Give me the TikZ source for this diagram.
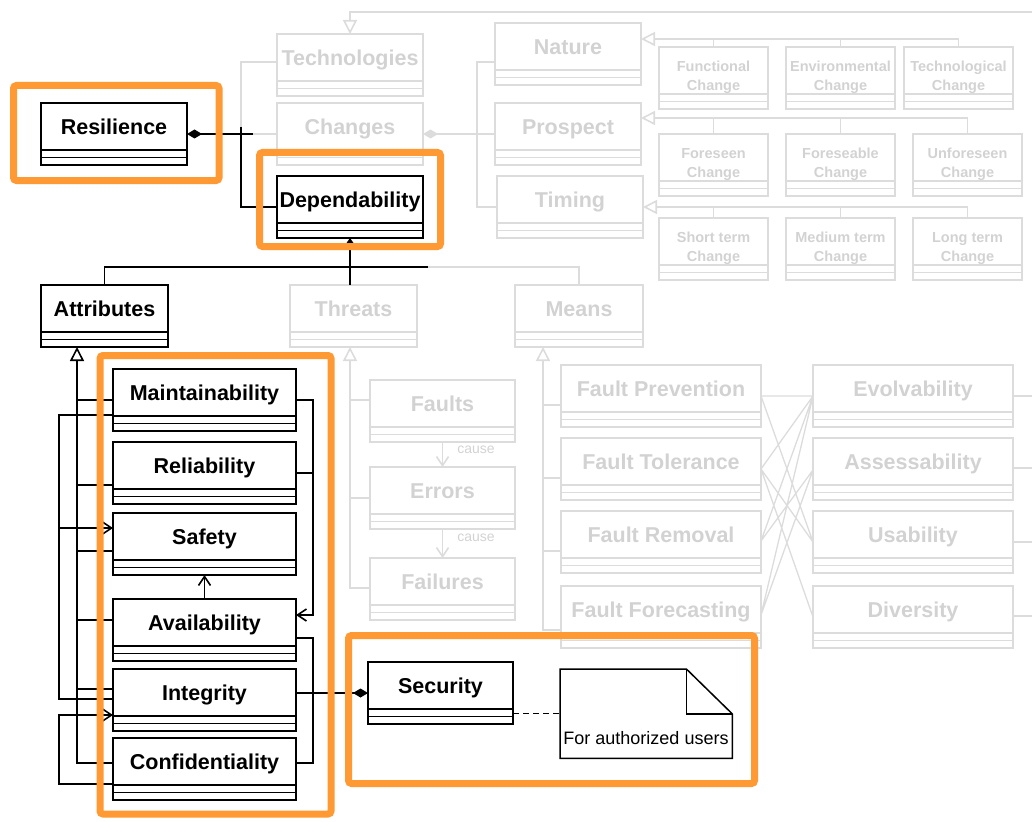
\documentclass[tikz,border=0pt]{standalone}
\usepackage{fontspec}
\setmainfont{Liberation Sans}
\usetikzlibrary{arrows.meta,calc}
\definecolor{gyc}{HTML}{DCDCDC}
\definecolor{gyt}{HTML}{D2D2D2}
\definecolor{org}{HTML}{FF9933}
\tikzset{
  bkl/.style={draw=black, line width=1.8pt},
  gyl/.style={draw=gyc, line width=1.8pt},
  bkc/.style={draw=black, line width=1.6pt},
  gyk/.style={draw=gyc, line width=1.6pt},
  gyx/.style={draw=gyc, line width=1.3pt},
  bkbox/.style={bkl, inner sep=0pt, outer sep=0pt},
  gybox/.style={gyl, inner sep=0pt, outer sep=0pt},
  bigbk/.style={text=black, font=\fontsize{21.5}{24}\selectfont\bfseries, inner sep=0pt, anchor=base, yshift=-7.7pt},
  biggy/.style={bigbk, text=gyt},
  smgy/.style={text=gyt, font=\fontsize{14.5}{19}\selectfont\bfseries, inner sep=0pt, anchor=north, align=center, yshift=9.3pt},
  gen/.tip={Triangle[open,length=14pt,width=14pt]},
  dep/.tip={Straight Barb[length=9pt,width=12pt]},
  comp/.tip={Diamond[length=15pt,width=9pt]},
  frame/.style={draw=org, line width=7pt, rounded corners=3pt}
}
% #1 name, #2 bk/gy, #3 x1, #4 y1, #5 x2, #6 y2, #7 text style, #8 text
\newcommand\umlcls[8]{%
  \pgfmathsetmacro\uw{#5-#3}\pgfmathsetmacro\uh{#6-#4}%
  \node[#2box, minimum width=\uw pt, minimum height=\uh pt, anchor=north west] (#1) at (#3,#4) {};
  \draw[#2l] (#3,{#6-15}) -- (#5,{#6-15}) (#3,{#6-7.5}) -- (#5,{#6-7.5});
  \node[#7] (#1-t) at ({(#3+#5)/2},{(#4+#6-15)/2}) {#8};
}
\begin{document}
\begin{tikzpicture}[x=1pt,y=-1pt]
\useasboundingbox (0,0) rectangle (1032,821);

% ---------- gray classes ----------
\umlcls{tech}{gy}{277}{34}{423}{96}{biggy}{Technologies}
\umlcls{chg}{gy}{277}{103}{423}{165}{biggy}{Changes}
\umlcls{nat}{gy}{495}{23}{641}{85}{biggy}{Nature}
\umlcls{pro}{gy}{495}{103}{641}{165}{biggy}{Prospect}
\umlcls{tim}{gy}{497}{176}{643}{238}{biggy}{Timing}
\umlcls{fun}{gy}{659}{47}{768}{109}{smgy}{Functional\\Change}
\umlcls{env}{gy}{786}{47}{895}{109}{smgy}{Environmental\\Change}
\umlcls{tec}{gy}{904}{47}{1013}{109}{smgy}{Technological\\Change}
\umlcls{fsn}{gy}{659}{134}{768}{196}{smgy}{Foreseen\\Change}
\umlcls{fsb}{gy}{786}{134}{895}{196}{smgy}{Foreseable\\Change}
\umlcls{ufs}{gy}{913}{134}{1022}{196}{smgy}{Unforeseen\\Change}
\umlcls{sht}{gy}{659}{218}{768}{280}{smgy}{Short term\\Change}
\umlcls{med}{gy}{786}{218}{895}{280}{smgy}{Medium term\\Change}
\umlcls{lng}{gy}{913}{218}{1022}{280}{smgy}{Long term\\Change}
\umlcls{thr}{gy}{290}{285}{417}{347}{biggy}{Threats}
\umlcls{mea}{gy}{515}{285}{643}{347}{biggy}{Means}
\umlcls{flt}{gy}{370}{380}{515}{442}{biggy}{Faults}
\umlcls{err}{gy}{370}{467}{515}{529}{biggy}{Errors}
\umlcls{fai}{gy}{370}{558}{515}{620}{biggy}{Failures}
\umlcls{fpr}{gy}{561}{365}{761}{427}{biggy}{Fault Prevention}
\umlcls{fto}{gy}{561}{438}{761}{500}{biggy}{Fault Tolerance}
\umlcls{frm}{gy}{561}{511}{761}{573}{biggy}{Fault Removal}
\umlcls{ffc}{gy}{561}{586}{761}{648}{biggy}{Fault Forecasting}
\umlcls{evo}{gy}{813}{365}{1013}{427}{biggy}{Evolvability}
\umlcls{ass}{gy}{813}{438}{1013}{500}{biggy}{Assessability}
\umlcls{usa}{gy}{813}{511}{1013}{573}{biggy}{Usability}
\umlcls{div}{gy}{813}{586}{1013}{648}{biggy}{Diversity}

% ---------- black classes ----------
\umlcls{res}{bk}{41}{103}{187}{165}{bigbk}{Resilience}
\umlcls{dep}{bk}{277}{176}{423}{238}{bigbk}{Dependability}
\umlcls{att}{bk}{41}{285}{168}{347}{bigbk}{Attributes}
\umlcls{mai}{bk}{113}{369}{296}{431}{bigbk}{Maintainability}
\umlcls{rel}{bk}{113}{442}{296}{504}{bigbk}{Reliability}
\umlcls{saf}{bk}{113}{513}{296}{575}{bigbk}{Safety}
\umlcls{ava}{bk}{113}{599}{296}{661}{bigbk}{Availability}
\umlcls{int}{bk}{113}{669}{296}{731}{bigbk}{Integrity}
\umlcls{con}{bk}{113}{738}{296}{800}{bigbk}{Confidentiality}
\umlcls{sec}{bk}{368}{662}{513}{724}{bigbk}{Security}

% note
\node[inner sep=0pt, minimum width=172pt, minimum height=89pt, anchor=north west] (note) at (560,669) {};
\draw[bkl, line width=1.5pt, line join=miter] (note.north west) -- ([xshift=-46pt]note.north east) -- ([yshift=-45pt]note.north east) -- (note.south east) -- (note.south west) -- cycle;
\draw[bkl, line width=1.5pt] ([xshift=-46pt]note.north east) -- ([xshift=-46pt,yshift=-45pt]note.north east) -- ([yshift=-45pt]note.north east);
\node[font=\fontsize{18}{20}\selectfont, inner sep=0pt, anchor=base] (note-t) at (646,744) {For authorized users};

% ---------- gray connectors ----------
\coordinate (topend) at (1032,12);
\coordinate (j1) at (253,134);
\coordinate (j2) at (241,127);
\coordinate (tj) at (428,267);
\draw[gyk, -gen] (topend) -| (tech.north);
\draw[gyk] ([yshift=-28pt]tech.north west) -| (j2);
\draw[gyk] (j1) -- (chg.west);
\draw[gyk, comp-] (chg.east) -- (pro.west);
\draw[gyk] ([yshift=-39pt]nat.north west) -- ++(-18,0) |- (tim.west);
\draw[gyk, -gen] (tec.north) |- ([yshift=-16pt]nat.north east);
\draw[gyk] (fun.north) -- ++(0,-8);
\draw[gyk] (env.north) -- ++(0,-8);
\draw[gyk, -gen] (ufs.north) |- ([yshift=-15pt]pro.north east);
\draw[gyk] (fsn.north) -- ++(0,-16);
\draw[gyk] (fsb.north) -- ++(0,-16);
\draw[gyk, -gen] (lng.north) |- (tim.east);
\draw[gyk] (sht.north) -- ++(0,-11);
\draw[gyk] (med.north) -- ++(0,-11);
\draw[gyk] (tj) -| (mea.north);
% threats
\draw[gyk, -gen] ([yshift=-30pt]fai.north west) -| ([xshift=60pt]thr.south west);
\draw[gyk] ([yshift=-20pt]flt.north west) -- ++(-20,0);
\draw[gyk] ([yshift=-31pt]err.north west) -- ++(-20,0);
\draw[gyk, -dep] (flt.south) -- (err.north) node[pos=0.3, anchor=west, xshift=14pt, inner sep=0pt, text=gyt, font=\fontsize{14}{16}\selectfont] (c1) {cause};
\draw[gyk, -dep] (err.south) -- (fai.north) node[pos=0.3, anchor=west, xshift=14pt, inner sep=0pt, text=gyt, font=\fontsize{14}{16}\selectfont] (c2) {cause};
% means
\draw[gyk, -gen] ([yshift=-44pt]ffc.north west) -| ([xshift=28pt]mea.south west);
\draw[gyk] ([yshift=-40pt]fpr.north west) -- ++(-18,0);
\draw[gyk] ([yshift=-40pt]fto.north west) -- ++(-18,0);
\draw[gyk] ([yshift=-40pt]frm.north west) -- ++(-18,0);
% crossings
\coordinate (pR) at ([yshift=-31pt]fpr.north east);
\coordinate (tR) at ([yshift=-31pt]fto.north east);
\coordinate (rR) at ([yshift=-30pt]frm.north east);
\coordinate (fR) at ([yshift=-29pt]ffc.north east);
\coordinate (eL) at ([yshift=-31pt]evo.north west);
\coordinate (aL) at ([yshift=-32pt]ass.north west);
\coordinate (uL) at ([yshift=-31pt]usa.north west);
\coordinate (dL) at ([yshift=-31pt]div.north west);
\draw[gyx] (pR) -- (eL) (pR) -- (uL)
  (tR) -- (eL) (tR) -- (uL) (tR) -- (dL)
  (rR) -- (eL) (rR) -- (aL)
  (fR) -- (eL) (fR) -- (aL);
\draw[gyk] ([yshift=-31pt]evo.north east) -- ++(19,0);
\draw[gyk] ([yshift=-30pt]ass.north east) -- ++(19,0);
\draw[gyk] ([yshift=-31pt]usa.north east) -- ++(19,0);
\draw[gyk] ([yshift=-30pt]div.north east) -- ++(19,0);

% ---------- black connectors ----------
\draw[bkc, comp-] (res.east) -- (j1);
\draw[bkc] (j2) |- (dep.west);
\draw[bkc] (att.north) |- (tj);
\draw[bkc, -{Triangle[length=6pt,width=8pt]}] (thr.north -| dep.south) -- (dep.south);
\draw[bkc, -gen] ([yshift=-25pt]con.north west) -| ([xshift=36pt]att.south west);
\draw[bkc] ([yshift=-31pt]mai.north west) -- ++(-36,0);
\draw[bkc] ([yshift=-43pt]rel.north west) -- ++(-36,0);
\draw[bkc] ([yshift=-38pt]saf.north west) -- ++(-36,0);
\draw[bkc] ([yshift=-21pt]ava.north west) -- ++(-36,0);
\draw[bkc] ([yshift=-20pt]int.north west) -- ++(-36,0);
% dependency loops
\draw[bkc] ([yshift=-46pt]mai.north west) -- ++(-54,0) |- ([yshift=-30pt]int.north west);
\draw[bkc, -dep] ([xshift=-54pt,yshift=-15pt]saf.north west) -- ([yshift=-15pt]saf.north west);
\draw[bkc, -dep] ([yshift=-46pt]con.north west) -- ++(-54,0) |- ([yshift=-46pt]int.north west);
\draw[bkc, -dep] ([yshift=-31pt]mai.north east) -- ++(17,0) |- ([yshift=-16pt]ava.north east);
\draw[bkc] ([yshift=-31pt]rel.north east) -- ++(17,0);
\draw[bkc] ([yshift=-39pt]ava.north east) -- ++(17,0) |- ([yshift=-25pt]con.north east);
\draw[bkc, -dep] (ava.north) -- (saf.south);
\draw[bkc, -comp] (int.east |- sec.west) -- (sec.west);
\draw[bkc, line width=1.3pt, dash pattern=on 6pt off 4pt] (sec.east |- note.west) -- (note.west);

% ---------- orange frames ----------
\draw[frame] (13.5,85.5) rectangle (219,180.5);
\draw[frame] (259.5,152.5) rectangle (440.5,246.5);
\draw[frame] (100,355.5) rectangle (331,814);
\draw[frame] (348.5,635.5) rectangle (754.5,783.5);
\end{tikzpicture}
\end{document}
